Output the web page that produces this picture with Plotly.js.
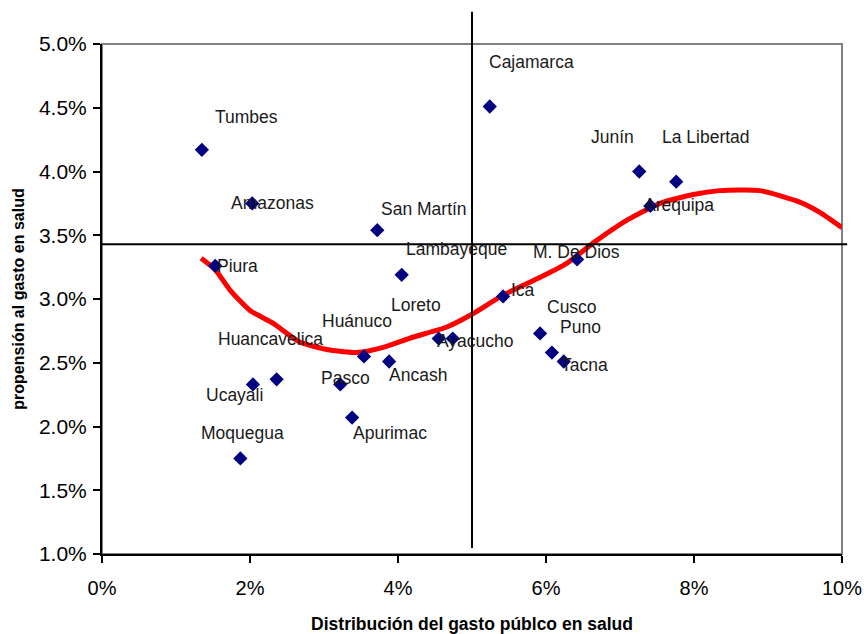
<!DOCTYPE html>
<html>
<head>
<meta charset="utf-8">
<script src="https://cdn.plot.ly/plotly-3.0.1.min.js"></script>
<style>html,body{margin:0;padding:0;background:#fff;}#chart{width:864px;height:634px;}</style>
</head>
<body>
<div id="chart"></div>
<script>
// Departments (scatter points) — x: distribución del gasto público (%), y: propensión al gasto (%)
const names = ["Tumbes","Amazonas","Piura","Cajamarca","San Martín","Lambayeque","Loreto","Ayacucho","Ica","M. De Dios","Cusco","Puno","Tacna","Junín","La Libertad","Arequipa","Huánuco","Huancavelica","Ancash","Pasco","Apurimac","Ucayali","Moquegua"];
const gastoPublico = [1.35,2.03,1.53,5.24,3.72,4.05,4.55,4.74,5.42,6.42,5.92,6.08,6.24,7.26,7.76,7.41,3.54,2.36,3.88,3.22,3.38,2.04,1.87];
const propension   = [4.17,3.75,3.26,4.51,3.54,3.19,2.69,2.69,3.02,3.31,2.73,2.58,2.51,4.00,3.92,3.73,2.55,2.37,2.51,2.33,2.07,2.33,1.75];

// Trend curve (red)
const trendX = [1.34,1.53,1.73,2.00,2.31,2.68,3.08,3.45,3.80,4.20,4.66,5.00,5.42,5.92,6.28,6.64,7.10,7.54,7.99,8.35,8.89,9.43,9.70,10.0];
const trendY = [3.32,3.23,3.07,2.91,2.81,2.66,2.60,2.58,2.62,2.70,2.78,2.88,3.03,3.17,3.28,3.44,3.62,3.75,3.82,3.85,3.85,3.76,3.68,3.56];

// Reference (quadrant) lines
const refX = 5.0;
const refY = 3.43;

// Axis ticks
const xTicks = [0,2,4,6,8,10];
const xTickText = ["0%","2%","4%","6%","8%","10%"];
const yTicks = [1.0,1.5,2.0,2.5,3.0,3.5,4.0,4.5,5.0];
const yTickText = ["1.0%","1.5%","2.0%","2.5%","3.0%","3.5%","4.0%","4.5%","5.0%"];

// label pixel offsets (style only)
const labelShift = {
 "Tumbes":[45,33],"Amazonas":[20,0],"Piura":[22,0],"Cajamarca":[42,44],"San Martín":[47,21],
 "Lambayeque":[55,26],"Loreto":[-23,34],"Ayacucho":[23,-2],"Ica":[20,6],"M. De Dios":[-1,7],
 "Cusco":[32,26],"Puno":[29,26],"Tacna":[21,-4],"Junín":[-27,35],"La Libertad":[30,45],
 "Arequipa":[29,1],"Huánuco":[-7,35],"Huancavelica":[-6,40],"Ancash":[29,-14],"Pasco":[5,6],
 "Apurimac":[38,-15],"Ucayali":[-18,-11],"Moquegua":[2,25]
};

const sans = '"Liberation Sans", Arial, sans-serif';

const annotations = names.map((n,i)=>({
  x: gastoPublico[i], y: propension[i], xref:'x', yref:'y',
  text: n, showarrow:false,
  xshift: labelShift[n][0], yshift: labelShift[n][1],
  font:{family:sans, size:17.5, color:'#1a1a1a'}
}));

const traces = [
  {x: trendX, y: trendY, type:'scatter', mode:'lines', line:{color:'#ff0000', width:5, shape:'spline', smoothing:0.6}, hoverinfo:'skip'},
  {x: gastoPublico, y: propension, type:'scatter', mode:'markers', text:names,
   marker:{symbol:'diamond', size:11, color:'#000080'}, cliponaxis:false}
];

const layout = {
  width:864, height:634,
  margin:{l:102, r:22, t:44, b:80},
  paper_bgcolor:'#ffffff', plot_bgcolor:'#ffffff',
  showlegend:false,
  xaxis:{range:[0,10], tickvals:xTicks, ticktext:xTickText, showgrid:false, zeroline:false,
    showline:true, linecolor:'#000', linewidth:2, ticks:'outside', ticklen:7, tickwidth:2, tickcolor:'#000',
    tickfont:{family:sans, size:20, color:'#000'}, ticklabelstandoff:8,
    title:{text:'Distribución del gasto públco en salud', font:{family:sans, size:17.5, color:'#000', weight:'bold'}, standoff:21}},
  yaxis:{range:[1,5], tickvals:yTicks, ticktext:yTickText, showgrid:false, zeroline:false,
    showline:true, linecolor:'#000', linewidth:2, ticks:'outside', ticklen:7, tickwidth:2, tickcolor:'#000',
    tickfont:{family:sans, size:21, color:'#000'}, ticklabelstandoff:2,
    title:{text:'propensión al gasto en salud', font:{family:sans, size:16, color:'#000', weight:'bold'}, standoff:10}},
  shapes:[
    {type:'rect', xref:'paper', yref:'paper', x0:0, x1:1, y0:0, y1:1, line:{color:'#808080', width:2}, layer:'below'},
    {type:'line', xref:'x', yref:'paper', x0:refX, x1:refX, y0:0.012, y1:1.063, line:{color:'#000', width:2}},
    {type:'line', xref:'paper', yref:'y', x0:0, x1:1.007, y0:refY, y1:refY, line:{color:'#000', width:2}}
  ],
  annotations: annotations
};

Plotly.newPlot('chart', traces, layout, {displayModeBar:false, staticPlot:true});
</script>
</body>
</html>
